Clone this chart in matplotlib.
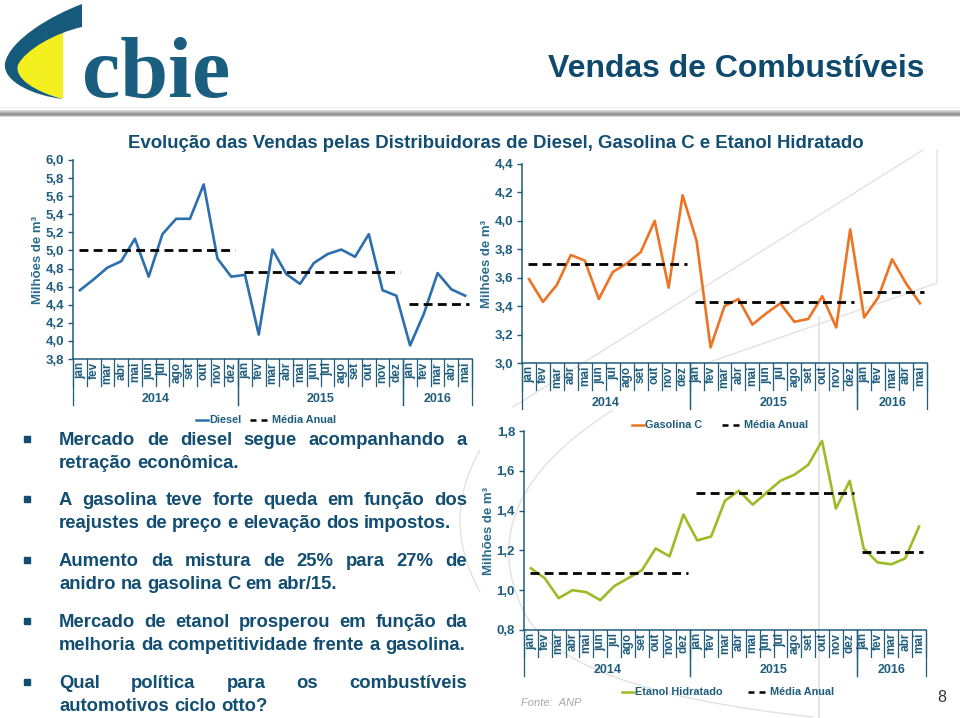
import numpy as np
import matplotlib
matplotlib.use('Agg')
import matplotlib.pyplot as plt
import matplotlib.transforms as mtransforms
from matplotlib.path import Path
from matplotlib.patches import PathPatch
from matplotlib import font_manager

plt.rcParams['font.family'] = ['Liberation Sans', 'DejaVu Sans']

# dados (milhões de m³), jan/2014 a mai/2016
meses = ['jan', 'fev', 'mar', 'abr', 'mai', 'jun', 'jul', 'ago', 'set', 'out', 'nov', 'dez'] * 2 + \
        ['jan', 'fev', 'mar', 'abr', 'mai']
anos = ['2014', '2015', '2016']
ano_ini = [0, 12, 24]
ano_fim = [11, 23, 28]

diesel = [4.56, 4.68, 4.81, 4.88, 5.13, 4.71, 5.18, 5.35, 5.35, 5.73, 4.91, 4.71,
          4.73, 4.07, 5.01, 4.74, 4.63, 4.86, 4.96, 5.01, 4.93, 5.18, 4.56, 4.50,
          3.95, 4.30, 4.75, 4.57, 4.50]
diesel_media = [5.01, 4.76, 4.41]

gasolina = [3.59, 3.43, 3.55, 3.76, 3.72, 3.45, 3.64, 3.70, 3.78, 4.00, 3.53, 4.18,
            3.86, 3.11, 3.40, 3.45, 3.27, 3.35, 3.42, 3.29, 3.31, 3.47, 3.25, 3.94,
            3.32, 3.46, 3.73, 3.56, 3.42]
gasolina_media = [3.695, 3.43, 3.50]

etanol = [1.11, 1.06, 0.96, 1.00, 0.99, 0.95, 1.02, 1.06, 1.10, 1.21, 1.17, 1.38,
          1.25, 1.27, 1.45, 1.50, 1.43, 1.49, 1.55, 1.58, 1.63, 1.75, 1.41, 1.55,
          1.21, 1.14, 1.13, 1.16, 1.32]
etanol_media = [1.085, 1.49, 1.19]

titulo = 'Vendas de Combustíveis'
subtitulo = 'Evolução das Vendas pelas Distribuidoras de Diesel, Gasolina C e Etanol Hidratado'
topicos = [
    ['Mercado de diesel segue acompanhando a', 'retração econômica.'],
    ['A gasolina teve forte queda em função dos', 'reajustes de preço e elevação dos impostos.'],
    ['Aumento da mistura de 25% para 27% de', 'anidro na gasolina C em abr/15.'],
    ['Mercado de etanol prosperou em função da', 'melhoria da competitividade frente a gasolina.'],
    ['Qual política para os combustíveis', 'automotivos ciclo otto?'],
]

AZUL_TXT = '#124d72'
AZUL_EIXO = '#1f5d7d'
W, H = 960, 718

# fonte estreita para o título, se existir
try:
    font_manager.findfont('Liberation Sans Narrow', fallback_to_default=False)
    estreita = 'Liberation Sans Narrow'
except Exception:
    estreita = 'Liberation Sans'

fig = plt.figure(figsize=(W / 100, H / 100), dpi=100)
fig.patch.set_facecolor('white')
bg = fig.add_axes([0, 0, 1, 1])
bg.axis('off')

# faixa cinza sob o cabeçalho
grad = np.array([[0.93], [0.97], [0.99], [0.86], [0.78], [0.70], [0.62], [0.58], [0.66], [0.85]])
bg.imshow(grad, cmap='gray', vmin=0, vmax=1, extent=[0, W, 117, 107], aspect='auto', interpolation='bilinear')
bg.set_xlim(0, W)
bg.set_ylim(H, 0)

# linhas decorativas claras ao fundo
claro = '#e2e2e2'
bg.plot([513, 923], [407, 150], color=claro, lw=1, zorder=0)
bg.plot([707, 937, 937], [363, 283, 150], color=claro, lw=1, zorder=0)
bg.plot([819, 819], [317, 718], color=claro, lw=1.2, zorder=0)
for verts in ([(480, 450), (440, 520), (480, 592)],
              [(613, 410), (470, 500), (523, 610)],
              [(523, 610), (560, 690), (813, 717)]):
    bg.add_patch(PathPatch(Path(verts, [Path.MOVETO, Path.CURVE3, Path.CURVE3]),
                           fc='none', ec=claro, lw=1, zorder=0))

# logo
amarelo = Path([(63, 99), (63, 32), (40, 42), (22, 52), (18, 65), (14, 78), (35, 92), (63, 99)],
               [Path.MOVETO, Path.LINETO, Path.CURVE4, Path.CURVE4, Path.CURVE4,
                Path.CURVE4, Path.CURVE4, Path.CURVE4])
bg.add_patch(PathPatch(amarelo, fc='#f4ef1e', ec='none'))
arco = Path([(82, 4), (50, 16), (10, 40), (5, 63), (2, 82), (35, 96), (63, 99),
             (35, 92), (14, 78), (18, 65), (25, 50), (55, 33), (82, 27), (82, 4)],
            [Path.MOVETO, Path.CURVE4, Path.CURVE4, Path.CURVE4, Path.CURVE4, Path.CURVE4, Path.CURVE4,
             Path.CURVE4, Path.CURVE4, Path.CURVE4, Path.CURVE4, Path.CURVE4, Path.CURVE4, Path.LINETO])
bg.add_patch(PathPatch(arco, fc='#175b7c', ec='none'))

ren = fig.canvas.get_renderer()


def ajusta(t, largura):
    w = t.get_window_extent(ren).width
    t.set_fontsize(t.get_fontsize() * largura / w)


t = bg.text(82, 97, 'cbie', family='Liberation Serif', fontweight='bold', fontsize=50,
            color='#1a5f80', ha='left', va='baseline')
ajusta(t, 148)

t = bg.text(925, 77, titulo, family=estreita, fontweight='bold', fontsize=22, color='#0f4a6e',
            ha='right', va='baseline')
ajusta(t, 377)
t = bg.text(496, 148, subtitulo, fontweight='bold', fontsize=12, color=AZUL_TXT, ha='center', va='baseline')
ajusta(t, 736)


def grafico(l, t, r, b, valores, medias, cor, y0, y1):
    ax = fig.add_axes([l / W, 1 - b / H, (r - l) / W, (b - t) / H])
    ax.patch.set_alpha(0)
    ax.plot(range(len(valores)), valores, color=cor, lw=1.9, zorder=3)
    for m, i0, i1 in zip(medias, ano_ini, ano_fim):
        ax.plot([i0 - 0.1, i1 + 0.3], [m, m], color='black', lw=2, dashes=(3.2, 1.9), zorder=4)
    ax.set_xlim(-0.5, len(valores) - 0.5)
    ax.set_ylim(y0, y1)
    ticks = np.arange(y0, y1 + 1e-6, 0.2)
    ax.set_yticks(ticks)
    ax.set_yticklabels([f'{v:.1f}'.replace('.', ',') for v in ticks])
    ax.set_xticks([])
    for s in ['top', 'right']:
        ax.spines[s].set_visible(False)
    for s in ['left', 'bottom']:
        ax.spines[s].set_color(AZUL_EIXO)
        ax.spines[s].set_linewidth(1.1)
    ax.tick_params(axis='y', length=3.5, width=1, color=AZUL_EIXO, pad=3, labelsize=9.5,
                   labelcolor=AZUL_EIXO)
    for lab in ax.get_yticklabels():
        lab.set_fontweight('bold')
    ax.set_ylabel('Milhões de m³', fontsize=9.5, fontweight='bold', color='#2a6c8c', va='center')
    ax.yaxis.set_label_coords(-35 / (r - l), 0.5)

    hp = b - t
    tr = mtransforms.blended_transform_factory(ax.transData, ax.transAxes)
    for i, m in enumerate(meses):
        ax.text(i, -3 / hp, m, transform=tr, rotation=90, ha='center', va='top', fontsize=8.5,
                fontweight='bold', color=AZUL_EIXO)
    for k in range(len(valores) + 1):
        ax.plot([k - 0.5] * 2, [0, -27 / hp], transform=tr, clip_on=False, color=AZUL_EIXO, lw=0.9)
    for i0, i1, a in zip(ano_ini, ano_fim, anos):
        for xx in (i0 - 0.5, i1 + 0.5):
            ax.plot([xx] * 2, [0, -46 / hp], transform=tr, clip_on=False, color=AZUL_EIXO, lw=0.9)
        ax.text((i0 + i1) / 2, -40 / hp, a, transform=tr, ha='center', va='center', fontsize=9,
                fontweight='bold', color=AZUL_EIXO)
    return ax


grafico(73, 160, 472, 359, diesel, diesel_media, '#2c6fad', 3.8, 6.0)
grafico(522, 164, 927, 363, gasolina, gasolina_media, '#ec7424', 3.0, 4.4)
grafico(524, 431, 926, 630, etanol, etanol_media, '#9cbc26', 0.8, 1.8)


def legenda(y, x_serie, cor, nome, x_media):
    bg.plot([x_serie, x_serie + 12], [y, y], color=cor, lw=1.8)
    bg.text(x_serie + 13, y, nome, ha='left', va='center', fontsize=7.8, fontweight='bold', color=AZUL_EIXO)
    bg.plot([x_media, x_media + 18], [y, y], color='black', lw=1.8, dashes=(2.4, 2.0))
    bg.text(x_media + 22, y, 'Média Anual', ha='left', va='center', fontsize=7.8, fontweight='bold',
            color=AZUL_EIXO)


legenda(420, 196, '#2c6fad', 'Diesel', 250)
legenda(425, 632, '#ec7424', 'Gasolina C', 722)
legenda(692, 622, '#9cbc26', 'Etanol Hidratado', 748)

bg.text(521, 703, 'Fonte:  ANP', ha='left', va='center', fontsize=8, style='italic', color='#a8a8a8')
bg.text(942, 697, '8', ha='center', va='center', fontsize=11.5, color='#333333')

# tópicos justificados
x0, x1 = 59, 467
ref = bg.text(0, 0, topicos[1][1], fontsize=13, fontweight='bold')
tam = 13 * 393 / ref.get_window_extent(ren).width
ref.remove()
linhas_y = [[445, 468], [505, 528], [566, 589], [627, 650], [688, 711]]
for par, ys in zip(topicos, linhas_y):
    bg.plot(27, ys[0] - 6, marker='s', ms=4.2, color=AZUL_TXT)
    for j, (linha, y) in enumerate(zip(par, ys)):
        palavras = linha.split(' ')
        objs = [bg.text(0, y, p, fontsize=tam, fontweight='bold', color=AZUL_TXT,
                        ha='left', va='baseline') for p in palavras]
        larg = [o.get_window_extent(ren).width for o in objs]
        if j < len(par) - 1:
            gap = (x1 - x0 - sum(larg)) / (len(palavras) - 1)
        else:
            gap = tam * 100 / 72 * 0.278
        x = x0
        for o, w in zip(objs, larg):
            o.set_x(x)
            x += w + gap

fig.savefig('out.png', dpi=100)
